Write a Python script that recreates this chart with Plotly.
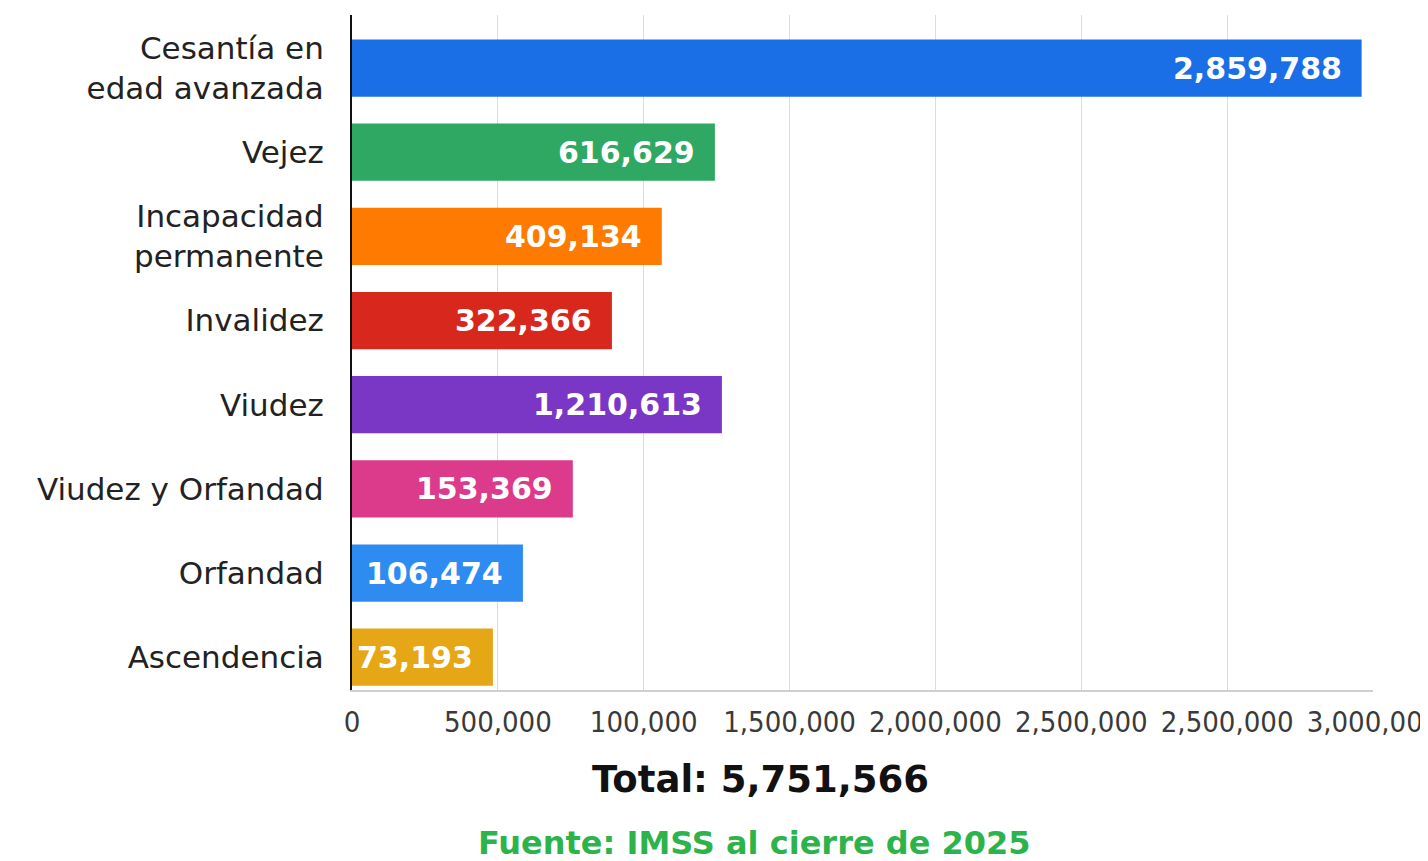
import plotly.graph_objects as go

categories = ["Cesantía en<br>edad avanzada", "Vejez", "Incapacidad<br>permanente", "Invalidez",
              "Viudez", "Viudez y Orfandad", "Orfandad", "Ascendencia"]
# printed values on the bars
value_labels = ["2,859,788", "616,629", "409,134", "322,366", "1,210,613", "153,369", "106,474", "73,193"]
# bar lengths as drawn, read against the axis gridlines (tick k sits at k*500,000)
bar_lengths = [3461000, 1244000, 1062000, 891000, 1268000, 757000, 586000, 483000]
colors = ["#1a6fe6", "#2ea862", "#ff7a00", "#d8271d", "#7a37c6", "#dc3a8a", "#2e8cf0", "#e6a716"]

tick_vals = [0, 500000, 1000000, 1500000, 2000000, 2500000, 3000000, 3500000]
tick_text = ["0", "500,000", "100,000", "1,500,000", "2,000,000", "2,500,000", "2,500,000", "3,000,000"]

total_text = "Total: 5,751,566"
source_text = "Fuente: IMSS al cierre de 2025"

fig = go.Figure()
fig.add_trace(go.Bar(
    x=bar_lengths, y=categories, orientation="h",
    marker=dict(color=colors, line=dict(width=0)),
    hoverinfo="skip", showlegend=False,
))

for x, y, t in zip(bar_lengths, categories, value_labels):
    fig.add_annotation(x=x, y=y, xref="x", yref="y", text=t, showarrow=False,
                       xanchor="right", yanchor="middle", xshift=-18,
                       font=dict(family="DejaVu Sans", size=30, color="white", weight="bold"))

fig.add_annotation(x=0.40, y=-0.133, xref="paper", yref="paper", text=total_text, showarrow=False,
                   xanchor="center", yanchor="middle",
                   font=dict(family="DejaVu Sans", size=37, color="#111111", weight="bold"))
fig.add_annotation(x=0.394, y=-0.226, xref="paper", yref="paper", text=source_text, showarrow=False,
                   xanchor="center", yanchor="middle",
                   font=dict(family="DejaVu Sans", size=32, color="#2db34b", weight="bold"))

fig.update_layout(
    width=1428, height=861,
    margin=dict(l=344, r=63, t=7, b=179),
    paper_bgcolor="white", plot_bgcolor="white",
    bargap=0.32,
    xaxis=dict(range=[0, 3500000], tickvals=tick_vals, ticktext=tick_text, automargin=False,
               showgrid=True, gridcolor="#dcdcdc", gridwidth=1, zeroline=False,
               showline=True, linecolor="#cfcfcf", linewidth=2,
               ticks="outside", ticklen=5, tickcolor="rgba(0,0,0,0)",
               ticklabeloverflow="allow",
               tickfont=dict(family="DejaVu Sans Condensed, Liberation Sans Narrow, DejaVu Sans", size=29, color="#3a3a3a")),
    yaxis=dict(range=[7.39, -0.63], showline=True, linecolor="#111111", linewidth=2, automargin=False,
               showgrid=False, zeroline=False,
               ticks="outside", ticklen=20, tickcolor="rgba(0,0,0,0)",
               tickfont=dict(family="DejaVu Sans", size=31, color="#222222")),
)

fig.write_html("out.html")
